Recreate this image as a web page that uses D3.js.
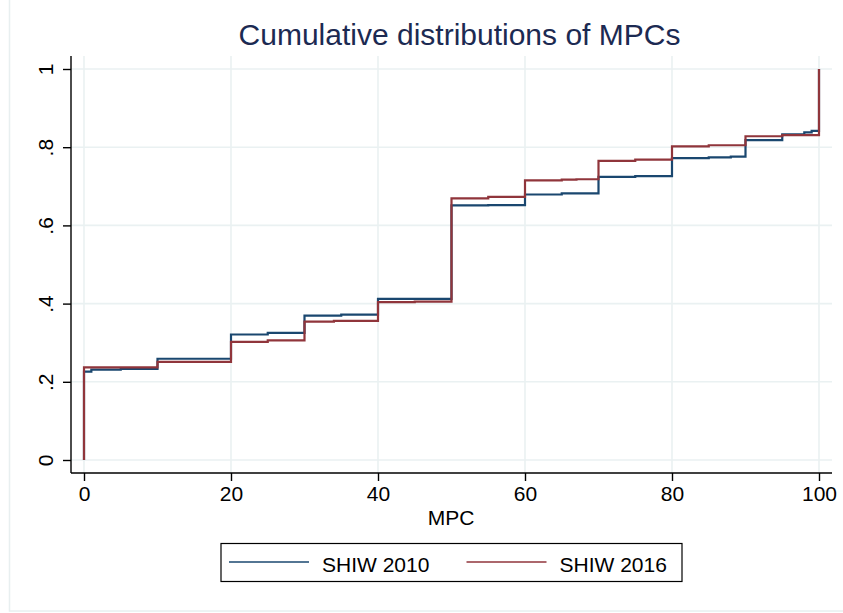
<!DOCTYPE html>
<html>
<head>
<meta charset="utf-8">
<script src="https://cdn.jsdelivr.net/npm/d3@7"></script>
<style>
  body { margin: 0; background: #fff; }
  text { font-family: "Liberation Sans", Arial, sans-serif; }
</style>
</head>
<body>
<div id="chart"></div>
<script>
// step points (MPC, cumulative share)
var mpc2010 = [0, 0, 1, 5, 10, 20, 25, 30, 35, 40, 50, 55, 60, 65, 70, 75, 80, 85, 88, 90, 95, 98, 99, 100];
var cdf2010 = [0, 0.226, 0.231, 0.233, 0.259, 0.321, 0.325, 0.369, 0.372, 0.412, 0.651, 0.652, 0.679, 0.682, 0.724, 0.726, 0.772, 0.774, 0.776, 0.818, 0.833, 0.838, 0.842, 1];
var mpc2016 = [0, 0, 10, 20, 25, 30, 34, 40, 45, 50, 55, 60, 65, 67, 70, 75, 80, 85, 90, 95, 100];
var cdf2016 = [0, 0.237, 0.251, 0.302, 0.306, 0.354, 0.356, 0.404, 0.405, 0.669, 0.673, 0.715, 0.717, 0.718, 0.765, 0.768, 0.802, 0.805, 0.828, 0.831, 1];

var seriesNames = ["SHIW 2010", "SHIW 2016"];
var seriesColors = ["#1a476f", "#90353b"];
var xTicks = [0, 20, 40, 60, 80, 100];
var yTicks = [0, 0.2, 0.4, 0.6, 0.8, 1];
var yTickLabels = ["0", ".2", ".4", ".6", ".8", "1"];

var svgWidth = 843;
var svgHeight = 613;

var svg = d3.select("#chart")
    .append("svg")
    .attr("width", svgWidth)
    .attr("height", svgHeight);

// outer graph region border (cropped at top and right)
svg.append("rect")
    .attr("x", 9.5)
    .attr("y", -5)
    .attr("width", 860)
    .attr("height", 616)
    .attr("fill", "none")
    .attr("stroke", "#e8eff0")
    .attr("stroke-width", 1.5);

//plot box
var plot = { left: 71, right: 832, top: 56, bottom: 473 };
var pad = 13;

var x = d3.scaleLinear()
    .domain([0, 100])
    .range([plot.left + pad, plot.right - pad]);

var y = d3.scaleLinear()
    .domain([0, 1])
    .range([plot.bottom - pad, plot.top + pad]);

var gridColor = "#eaf1f2";

// gridlines
svg.append("g")
    .selectAll("line")
    .data(xTicks)
    .enter()
    .append("line")
    .attr("x1", d => x(d))
    .attr("x2", d => x(d))
    .attr("y1", plot.top)
    .attr("y2", plot.bottom)
    .attr("stroke", gridColor)
    .attr("stroke-width", 1.6);

svg.append("g")
    .selectAll("line")
    .data(yTicks)
    .enter()
    .append("line")
    .attr("x1", plot.left)
    .attr("x2", plot.right)
    .attr("y1", d => y(d))
    .attr("y2", d => y(d))
    .attr("stroke", gridColor)
    .attr("stroke-width", 1.6);

// axes
var bottomAxis = d3.axisBottom(x)
    .tickValues(xTicks)
    .tickSize(8)
    .tickPadding(5)
    .tickSizeOuter(0);

var leftAxis = d3.axisLeft(y)
    .tickValues(yTicks)
    .tickSize(8)
    .tickFormat((d, i) => yTickLabels[i])
    .tickSizeOuter(0);

var xAxisG = svg.append("g")
    .attr("transform", `translate(0, ${plot.bottom})`)
    .call(bottomAxis);

xAxisG.select(".domain").attr("d", `M${plot.left},0H${plot.right}`);

var yAxisG = svg.append("g")
    .attr("transform", `translate(${plot.left}, 0)`)
    .call(leftAxis);

yAxisG.select(".domain").attr("d", `M0,${plot.top}V${plot.bottom}`);

svg.selectAll(".domain, .tick line")
    .attr("stroke", "#000")
    .attr("stroke-width", 1.4);

xAxisG.selectAll(".tick text")
    .attr("font-size", "21px")
    .attr("fill", "#000")
    .attr("font-family", "Liberation Sans, Arial, sans-serif");

yAxisG.selectAll(".tick text")
    .attr("font-size", "21px")
    .attr("fill", "#000")
    .attr("font-family", "Liberation Sans, Arial, sans-serif")
    .attr("text-anchor", "middle")
    .attr("x", 0)
    .attr("dy", 0)
    .attr("transform", "translate(-18, 0) rotate(-90)");

// step lines
var line = d3.line()
    .x(d => x(d[0]))
    .y(d => y(d[1]))
    .curve(d3.curveStepAfter);

var series = [
    d3.zip(mpc2010, cdf2010),
    d3.zip(mpc2016, cdf2016)
];

svg.append("g")
    .selectAll("path")
    .data(series)
    .enter()
    .append("path")
    .attr("d", line)
    .attr("fill", "none")
    .attr("stroke", (d, i) => seriesColors[i])
    .attr("stroke-width", 2.2);

// titles
svg.append("text")
    .attr("x", 459.5)
    .attr("y", 45)
    .attr("text-anchor", "middle")
    .attr("font-size", "30px")
    .attr("fill", "#1c2a52")
    .text("Cumulative distributions of MPCs");

svg.append("text")
    .attr("x", 451)
    .attr("y", 525)
    .attr("text-anchor", "middle")
    .attr("font-size", "21px")
    .attr("fill", "#000")
    .text("MPC");

// legend
var legend = svg.append("g");

legend.append("rect")
    .attr("x", 221)
    .attr("y", 543.5)
    .attr("width", 461)
    .attr("height", 38)
    .attr("fill", "#fff")
    .attr("stroke", "#000")
    .attr("stroke-width", 1.2);

var legendItems = legend.selectAll("g.item")
    .data(seriesNames)
    .enter()
    .append("g")
    .attr("class", "item")
    .attr("transform", (d, i) => `translate(${229 + i * 237.5}, 562)`);

legendItems.append("line")
    .attr("x1", 0)
    .attr("x2", 80)
    .attr("stroke", (d, i) => seriesColors[i])
    .attr("stroke-width", 1.6);

legendItems.append("text")
    .attr("x", 93)
    .attr("y", 9.5)
    .attr("font-size", "21px")
    .attr("fill", "#000")
    .text(d => d);
</script>
</body>
</html>
